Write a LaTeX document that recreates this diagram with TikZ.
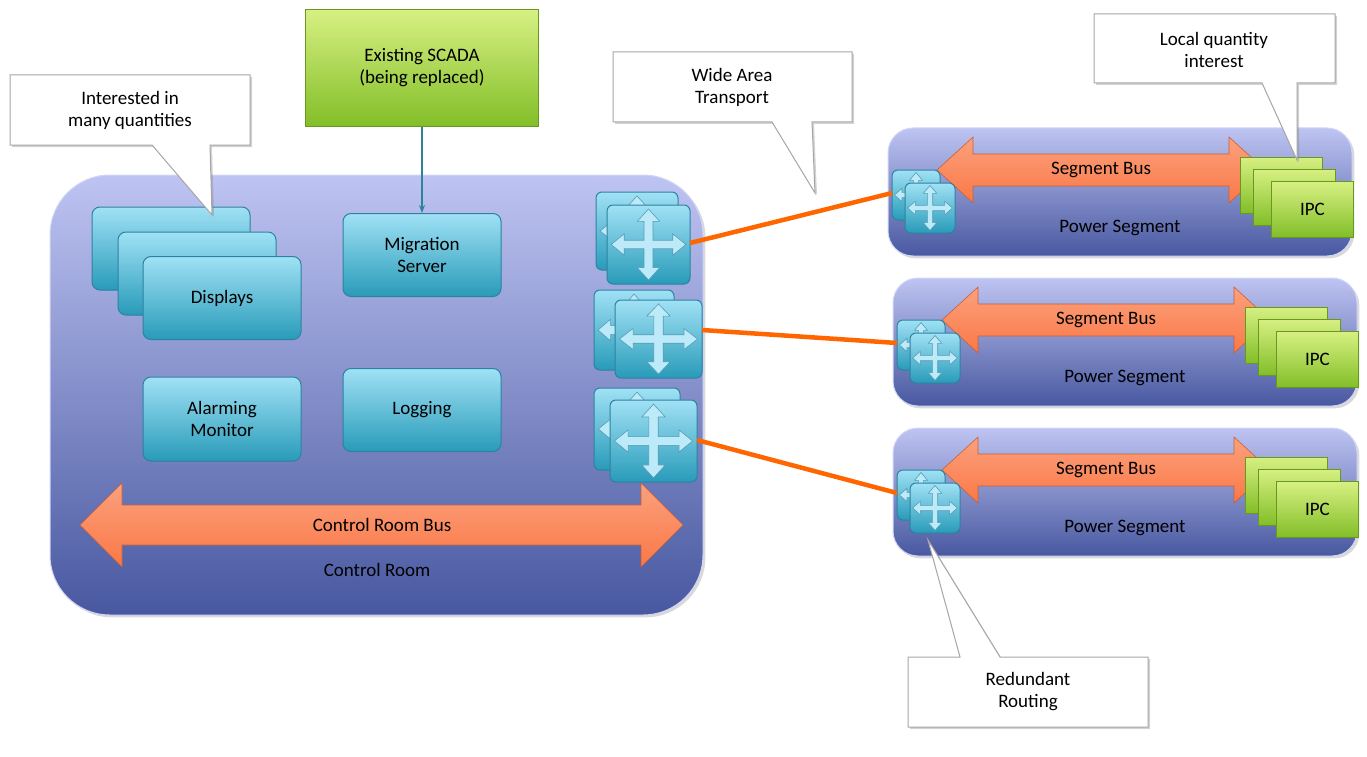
\documentclass[tikz,border=0pt]{standalone}
\usepackage{fontspec}
\setmainfont{Carlito}
\usetikzlibrary{arrows.meta,shadows}
\definecolor{crtop}{RGB}{190,196,242}
\definecolor{crbot}{RGB}{72,88,160}
\definecolor{tealtop}{RGB}{160,225,245}
\definecolor{tealbot}{RGB}{40,155,185}
\definecolor{tealedge}{RGB}{45,130,160}
\definecolor{gtop}{RGB}{215,240,130}
\definecolor{gbot}{RGB}{130,190,40}
\definecolor{busor}{RGB}{250,120,70}
\definecolor{lineor}{RGB}{255,102,0}
\tikzset{
 area/.style={draw=crtop!70!white,line width=1pt,top color=crtop,bottom color=crbot,drop shadow={opacity=0.3}},
 box/.style={draw=tealedge,line width=1pt,rounded corners=8pt,top color=tealtop,bottom color=tealbot},
 gbox/.style={draw=gbot!80!black,line width=0.8pt,top color=gtop,bottom color=gbot},
 lbl/.style={font=\fontsize{19}{22}\selectfont,align=center,text=black},
 dbl/.style={draw=busor!80!black,line width=0.6pt,top color=busor!70!white,bottom color=busor},
 call/.style={draw=gray!70,fill=white,line width=1pt,drop shadow={opacity=0.35,shadow xshift=2pt,shadow yshift=-2pt}},
 link/.style={lineor,line width=4.5pt},
}
% double arrow: x1,x2,yc,half-body,half-head,head-length
\newcommand{\dblarrow}[6]{%
 \path[dbl] (#1,#3) -- (#1+#6,#3-#5) -- (#1+#6,#3-#4) -- (#2-#6,#3-#4) -- (#2-#6,#3-#5)
   -- (#2,#3) -- (#2-#6,#3+#5) -- (#2-#6,#3+#4) -- (#1+#6,#3+#4) -- (#1+#6,#3+#5) -- cycle;}
% router icon: x,y (top-left), w,h
\newcommand{\rtr}[4]{%
 \path[box,rounded corners=6pt] (#1,#2) rectangle ++(#3,#4);
 \begin{scope}[shift={(#1+#3/2,#2+#4/2)},x=#3/2*1pt*0.9,y=-#4/2*1pt*0.9]
  \path[fill=tealtop!70!white,draw=tealedge!80,line width=0.6pt]
   (0,1) -- (-0.3,0.65) -- (-0.12,0.65) -- (-0.12,0.12) -- (-0.65,0.12) -- (-0.65,0.3) -- (-1,0)
   -- (-0.65,-0.3) -- (-0.65,-0.12) -- (-0.12,-0.12) -- (-0.12,-0.65) -- (-0.3,-0.65) -- (0,-1)
   -- (0.3,-0.65) -- (0.12,-0.65) -- (0.12,-0.12) -- (0.65,-0.12) -- (0.65,-0.3) -- (1,0)
   -- (0.65,0.3) -- (0.65,0.12) -- (0.12,0.12) -- (0.12,0.65) -- (0.3,0.65) -- cycle;
 \end{scope}}
\begin{document}
\begin{tikzpicture}[x=1pt,y=-1pt]
\useasboundingbox (0,0) rectangle (1367,757);
% control room
\path[area,rounded corners=60pt] (50,175) rectangle (703,615);
\node[lbl] (crl) at (377,570) {Control Room};
% displays
\path[box] (92,207) rectangle (250,290);
\path[box] (118,232) rectangle (276,315);
\node[box,minimum width=158pt,minimum height=83pt,lbl] (disp) at (222,298) {Displays};
\node[box,minimum width=158pt,minimum height=83pt,lbl] (mig) at (422,255) {Migration\\Server};
\node[box,minimum width=158pt,minimum height=84pt,lbl] (alarm) at (222,419) {Alarming\\Monitor};
\node[box,minimum width=158pt,minimum height=83pt,lbl] (log) at (422,410) {Logging};
% scada
\node[gbox,minimum width=233pt,minimum height=117pt,lbl] (scada) at (422,68) {Existing SCADA\\(being replaced)};
\draw[tealedge,line width=2pt,-{Stealth[length=8pt]}] (scada.south) -- (mig.north);
% control room bus
\dblarrow{80}{683}{525}{20}{42}{42}
\node[lbl] (crb) at (382,525) {Control Room Bus};
% CR routers
\rtr{596}{192}{82}{78}\rtr{607}{205}{83}{79}
\rtr{594}{290}{80}{80}\rtr{615}{300}{87}{78}
\rtr{594}{388}{86}{82}\rtr{610}{400}{87}{82}
\coordinate (r1) at (690,243); \coordinate (r2) at (702,330); \coordinate (r3) at (697,440);
% power segments
\foreach \i/\x/\y in {1/888/128,2/893/278,3/893/428}{
 \path[area,rounded corners=25pt] (\x,\y) rectangle ++(464,128);
 \dblarrow{\x+49}{\x+377}{\y+42}{16}{33}{36}
 \node[lbl] (sb\i) at (\x+213,\y+42) {Segment Bus};
 \node[lbl] (ps\i) at (\x+232,\y+100) {Power Segment};
 \path[gbox] (\x+352,\y+29) rectangle ++(82,56);
 \path[gbox] (\x+365,\y+41) rectangle ++(82,56);
 \node[gbox,minimum width=82pt,minimum height=56pt,lbl,anchor=north west] (ipc\i) at (\x+383,\y+53) {IPC};
 \rtr{\x+4}{\y+42}{48}{50}\rtr{\x+17}{\y+55}{50}{50}
 \coordinate (s\i) at (\x+4,\y+65);
}
\draw[link] (r1) -- (s1);
\draw[link] (r2) -- (s2);
\draw[link] (r3) -- (s3);
% callouts
\path[call] (10,75) -- (250,75) -- (250,145) -- (210,145) -- (212,215) -- (152,145) -- (10,145) -- cycle;
\node[lbl] (c1) at (130,110) {Interested in\\many quantities};
\path[call] (613,52) -- (852,52) -- (852,122) -- (812,122) -- (815,193) -- (772,122) -- (613,122) -- cycle;
\node[lbl] (c2) at (732,87) {Wide Area\\Transport};
\path[call] (1094,14) -- (1335,14) -- (1335,83) -- (1297,83) -- (1297,160) -- (1262,83) -- (1094,83) -- cycle;
\node[lbl] (c3) at (1214,50) {Local quantity\\interest};
\path[call] (908,657) -- (960,657) -- (928,540) -- (1000,657) -- (1148,657) -- (1148,727) -- (908,727) -- cycle;
\node[lbl] (c4) at (1028,692) {Redundant\\Routing};
\end{tikzpicture}
\end{document}
